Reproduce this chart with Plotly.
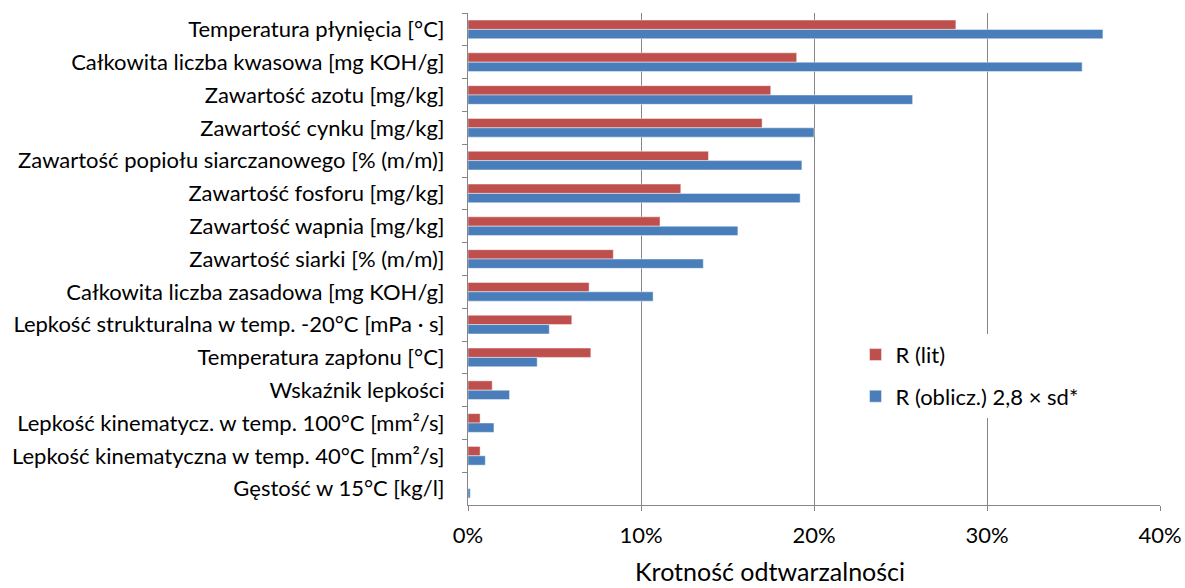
import plotly.graph_objects as go

# Parametry oleju silnikowego (od góry wykresu)
categories = [
    "Temperatura płynięcia [°C]",
    "Całkowita liczba kwasowa [mg KOH/g]",
    "Zawartość azotu [mg/kg]",
    "Zawartość cynku [mg/kg]",
    "Zawartość popiołu siarczanowego [% (m/m)]",
    "Zawartość fosforu [mg/kg]",
    "Zawartość wapnia [mg/kg]",
    "Zawartość siarki [% (m/m)]",
    "Całkowita liczba zasadowa [mg KOH/g]",
    "Lepkość strukturalna w temp. -20°C [mPa · s]",
    "Temperatura zapłonu [°C]",
    "Wskaźnik lepkości",
    "Lepkość kinematycz. w temp. 100°C [mm²/s]",
    "Lepkość kinematyczna w temp. 40°C [mm²/s]",
    "Gęstość w 15°C [kg/l]",
]

# Odtwarzalność z literatury
r_lit = [0.282, 0.190, 0.175, 0.170, 0.139, 0.123, 0.111, 0.084, 0.070,
         0.060, 0.071, 0.014, 0.007, 0.007, 0.0]

# Odtwarzalność obliczona: 2,8 × sd
r_calc = [0.367, 0.355, 0.257, 0.200, 0.193, 0.192, 0.156, 0.136, 0.107,
          0.047, 0.040, 0.024, 0.015, 0.010, 0.0013]

x_ticks = [0, 0.1, 0.2, 0.3, 0.4]

FONT = "Lato"
GRID = "#868686"

fig = go.Figure()
fig.add_trace(go.Bar(
    y=categories, x=r_lit, orientation="h", name="R (lit)",
    legendgroup="lit",
    marker=dict(color="#BE4F4C", line=dict(color="rgba(255,255,255,0.45)", width=1)),
))
fig.add_trace(go.Bar(
    y=categories, x=r_calc, orientation="h", name="R (oblicz.) 2,8 × sd*",
    legendgroup="calc",
    marker=dict(color="#4A7EBB", line=dict(color="rgba(255,255,255,0.45)", width=1)),
))

fig.update_layout(
    width=1185, height=588,
    margin=dict(l=468, r=25, t=13, b=83),
    paper_bgcolor="white", plot_bgcolor="white",
    barmode="group", bargap=0.43, bargroupgap=0,
    font=dict(family=FONT, size=22, color="#000000"),
    showlegend=True,
    legend=dict(
        x=0.560, y=0.348, xanchor="left", yanchor="top",
        bgcolor="white", borderwidth=0,
        font=dict(family=FONT, size=22, color="#000000"),
        traceorder="grouped", tracegroupgap=10,
        itemwidth=30,
    ),
    annotations=[dict(
        text="Krotność odtwarzalności", xref="paper", yref="paper",
        x=0.437, y=-0.169, xanchor="center", yanchor="bottom",
        showarrow=False, font=dict(family=FONT, size=25, color="#000000"),
    )],
)

fig.update_xaxes(
    range=[0, 0.4], tickvals=x_ticks, tickformat=".0%",
    showgrid=True, gridcolor=GRID, gridwidth=1,
    showline=True, linecolor=GRID, linewidth=1,
    ticks="outside", ticklen=5, tickcolor=GRID,
    tickfont=dict(family=FONT, size=22),
    ticklabelstandoff=6,
    zeroline=False, automargin=False,
)

fig.update_yaxes(
    type="category", autorange="reversed",
    showgrid=False,
    showline=True, linecolor=GRID, linewidth=1,
    ticks="outside", ticklen=5, tickcolor=GRID, tickson="boundaries",
    tickfont=dict(family=FONT, size=22),
    ticklabelstandoff=18, automargin=False,
)

fig.write_html("out.html")
